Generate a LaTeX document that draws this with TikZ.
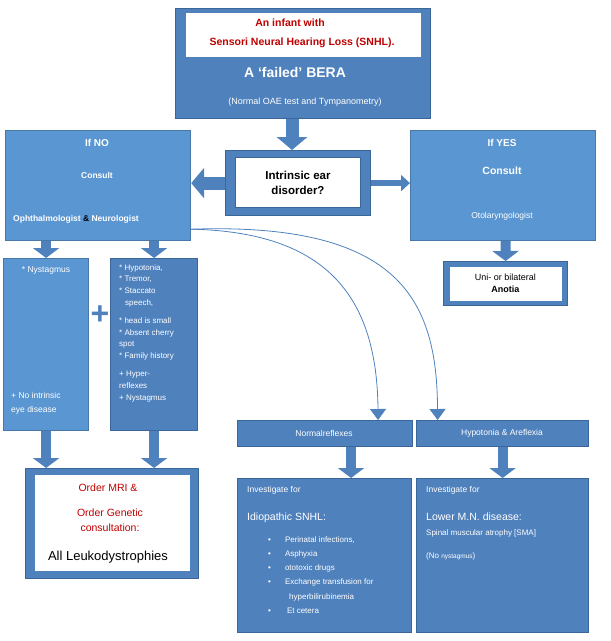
\documentclass[tikz,border=0pt]{standalone}
\usepackage{fontspec}
\setmainfont{Liberation Sans}
\usetikzlibrary{arrows.meta}
\definecolor{midblue}{HTML}{4F81BD}
\definecolor{lightblue}{HTML}{5A96D2}
\definecolor{edgeblue}{HTML}{3A6699}
\definecolor{darkred}{HTML}{C00000}
\tikzset{
  box/.style={draw=edgeblue, fill=midblue, line width=1.2pt, anchor=north west, inner sep=0pt},
  lbox/.style={box, fill=lightblue, draw=lightblue!80!black},
  wbox/.style={draw=edgeblue, fill=white, line width=1pt, anchor=north west, inner sep=0pt},
  txt/.style={text=white, font=\fontsize{8.5}{10.5}\selectfont, align=left, inner sep=0pt},
  fat/.style={draw=midblue, line width=13pt, -{Triangle[width=30pt,length=13pt]}},
  mid/.style={fat, line width=10pt, -{Triangle[width=26pt,length=10pt]}},
  curve/.style={draw=midblue, line width=0.8pt, -{Triangle[width=16pt,length=11pt,fill=midblue]}}
}
\begin{document}
\begin{tikzpicture}[x=1pt,y=-1pt]
    \useasboundingbox (0,0) rectangle (611,641);
    % top
    \node[box, minimum width=255pt, minimum height=110pt] (top) at (175,8) {};
    \node[wbox, draw=none, minimum width=235pt, minimum height=44pt] (topin) at (185,12) {};
    \node[text=darkred, font=\fontsize{10.5}{12}\bfseries] at (290,23) {An infant with};
    \node[text=darkred, font=\fontsize{10.5}{12}\bfseries] at (302,43) {Sensori Neural Hearing Loss (SNHL).};
    \node[text=white, font=\fontsize{14}{16}\bfseries] at (295,72) {A `failed' BERA};
    \node[text=white, font=\fontsize{9}{10}\selectfont] at (305,102) {(Normal OAE test and Tympanometry)};
    % question
    \node[box, minimum width=145pt, minimum height=65pt] (ask) at (225,150) {};
    \node[wbox, minimum width=125pt, minimum height=50pt, font=\fontsize{11.5}{15}\bfseries, align=center] (askin) at (235,157) {Intrinsic ear\\disorder?};
    % consult boxes
    \node[lbox, minimum width=185pt, minimum height=110pt] (no) at (5,130) {};
    \node[txt, font=\fontsize{10}{11}\bfseries] at (97,143) {If NO};
    \node[txt, font=\fontsize{8.5}{10}\bfseries] at (97,175) {Consult};
    \node[txt, anchor=west, font=\fontsize{8.5}{10}\bfseries] at (13,219) {Ophthalmologist \textcolor{black}{\&} Neurologist};
    \node[lbox, minimum width=185pt, minimum height=110pt] (yes) at (410,130) {};
    \node[txt, font=\fontsize{10}{11}\bfseries] at (502,143) {If YES};
    \node[txt, font=\fontsize{10.5}{11}\bfseries] at (502,171) {Consult};
    \node[txt] at (502,216) {Otolaryngologist};
    \node[box, minimum width=124pt, minimum height=44pt] (ear) at (443,261) {};
    \node[wbox, draw=none, minimum width=112pt, minimum height=34pt, font=\fontsize{9}{12}\selectfont, align=center] (earin) at (449,266) {Uni- or bilateral\\\textbf{Anotia}};
    % sign boxes
    \node[lbox, minimum width=85pt, minimum height=172pt] (eye) at (3,258) {};
    \node[txt] at (46,270) {* Nystagmus};
    \node[txt, anchor=north west, font=\fontsize{8.5}{14}\selectfont] at (11,392) {+ No intrinsic\\eye disease};
    \node[box, minimum width=87pt, minimum height=172pt] (neuro) at (110,258) {};
    \node[txt, anchor=north west, font=\fontsize{8}{11.8}\selectfont] at (119,264) {* Hypotonia,\\* Tremor,\\* Staccato\\\hspace*{6pt}speech,\\[6pt]* head is small\\* Absent cherry\\spot\\* Family history\\[6pt]+ Hyper-\\reflexes\\+ Nystagmus};
    \node[text=midblue, font=\fontsize{32}{32}\bfseries] (plus) at (100,315) {+};
    % MRI
    \node[box, minimum width=173pt, minimum height=110pt] (mri) at (25,468) {};
    \node[wbox, draw=none, minimum width=155pt, minimum height=96pt] (mriin) at (34,474) {};
    \node[text=darkred, font=\fontsize{10.5}{12}\selectfont] at (108,488) {Order MRI \&};
    \node[text=darkred, font=\fontsize{10.5}{15}\selectfont, align=center] at (110,520) {Order Genetic\\consultation:};
    \node[font=\fontsize{13}{14}\selectfont] at (108,557) {All Leukodystrophies};
    % reflexes
    \node[box, minimum width=175pt, minimum height=26pt] (nrm) at (237,420) {};
    \node[txt] at (324,433) {Normalreflexes};
    \node[box, minimum width=172pt, minimum height=26pt] (areflex) at (416,420) {};
    \node[txt] at (502,433) {Hypotonia \& Areflexia};
    % investigate
    \node[box, minimum width=174pt, minimum height=154pt] (idio) at (237,478) {};
    \node[txt, anchor=north west] at (247,486) {Investigate for};
    \node[txt, anchor=north west, font=\fontsize{10.5}{11}\selectfont] at (247,513) {Idiopathic SNHL:};
    \node[txt, anchor=north west, font=\fontsize{8}{14.3}\selectfont] at (268,536) {\textbullet\hspace{14pt}Perinatal infections,\\\textbullet\hspace{14pt}Asphyxia\\\textbullet\hspace{14pt}ototoxic drugs\\\textbullet\hspace{14pt}Exchange transfusion for\\\hspace{21pt}hyperbilirubinemia\\\textbullet\hspace{16pt}Et cetera};
    \node[box, minimum width=172pt, minimum height=154pt] (lmn) at (416,478) {};
    \node[txt, anchor=north west] at (426,486) {Investigate for};
    \node[txt, anchor=north west, font=\fontsize{10.5}{11}\selectfont] at (426,513) {Lower M.N. disease:};
    \node[txt, anchor=north west, font=\fontsize{8}{9}\selectfont] at (426,529) {Spinal muscular atrophy [SMA]\\[14pt](No {\fontsize{6.5}{9}\selectfont nystagmus})};
    % arrows
    \draw[fat] (top.south -| 292,0) -- (ask.north -| 292,0);
    \draw[fat] (ask.west) -- (ask.west -| no.east);
    \draw[fat, line width=6pt, -{Triangle[width=16pt,length=9pt]}] (ask.east) -- (ask.east -| yes.west);
    \draw[mid] (yes.south -| earin.north) -- (ear.north);
    \draw[mid] (no.south -| eye.north) -- (eye.north);
    \draw[mid] (no.south -| neuro.north) -- (neuro.north);
    \draw[mid] (eye.south) -- (eye.south |- mri.north);
    \draw[mid] (neuro.south) -- (neuro.south |- mri.north);
    \draw[mid] ([xshift=26pt]nrm.south) -- ([xshift=26pt]nrm.south |- idio.north);
    \draw[mid] (areflex.south) -- (areflex.south |- lmn.north);
    \draw[curve] ([yshift=12pt]no.south east) .. controls (330,232) and (377,300) .. ([xshift=53pt]nrm.north);
    \draw[curve] ([yshift=12pt]no.south east) .. controls (400,222) and (437,300) .. ([xshift=-65pt]areflex.north);
\end{tikzpicture}
\end{document}
